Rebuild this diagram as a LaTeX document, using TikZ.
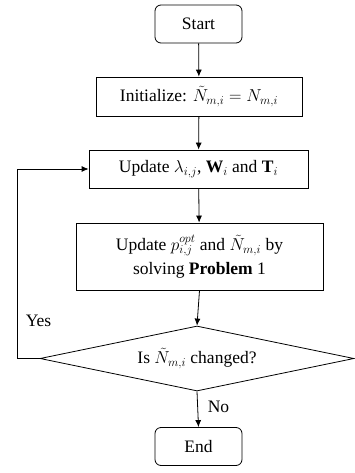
\documentclass[tikz,border=0pt]{standalone}
\usepackage{fontspec}
\setmainfont{Liberation Serif}
\usetikzlibrary{shapes.geometric,arrows.meta}
\begin{document}
\begin{tikzpicture}[x=1pt,y=1pt,
  every node/.style={font=\fontsize{17.5}{21}\selectfont},
  base/.style={draw,line width=0.8pt,inner sep=0pt},
  term/.style={base,rounded corners=6pt,minimum width=87pt,minimum height=38pt},
  proc/.style={base,rectangle},
  decision/.style={base,diamond,aspect=4.8,minimum width=314pt,minimum height=65pt},
  conn/.style={line width=0.8pt,-{Latex[length=7pt,width=6pt]}},
  lbl/.style={inner sep=0pt}]
\useasboundingbox (0,0) rectangle (354,-473);
\node[term] (start) at (198.5,-24) {Start};
\node[proc,minimum width=206pt,minimum height=39pt] (init) at (199,-96.5) {Initialize: $\tilde N_{m,i} = N_{m,i}$};
\node[proc,minimum width=219pt,minimum height=38pt] (upd1) at (198.5,-169) {Update $\lambda_{i,j}$, $\mathbf{W}_i$ and $\mathbf{T}_i$};
\node[proc,minimum width=247pt,minimum height=67pt,align=center] (upd2) at (199.5,-256.5) {Update $p_{i,j}^{opt}$ and $\tilde N_{m,i}$ by\\[3pt] solving \textbf{Problem} 1};
\node[decision] (dec) at (197,-358.5) {Is $\tilde N_{m,i}$ changed?};
\node[term] (end) at (198.5,-446.5) {End};
\coordinate (c1) at (17,-358.5);
\coordinate (c2) at (17,-169);
\draw[conn] (start) -- (init);
\draw[conn] (init) -- (upd1);
\draw[conn] (upd1) -- (upd2);
\draw[conn] (upd2.south) -- (dec.north);
\draw[conn] (dec.south) -- (end.north);
\draw[conn] (dec.west) -- (c1) -- (c2) -- (upd1.west);
\node[lbl] (yes) at (38.5,-321) {Yes};
\node[lbl] (no) at (218.5,-407) {No};
\end{tikzpicture}
\end{document}
